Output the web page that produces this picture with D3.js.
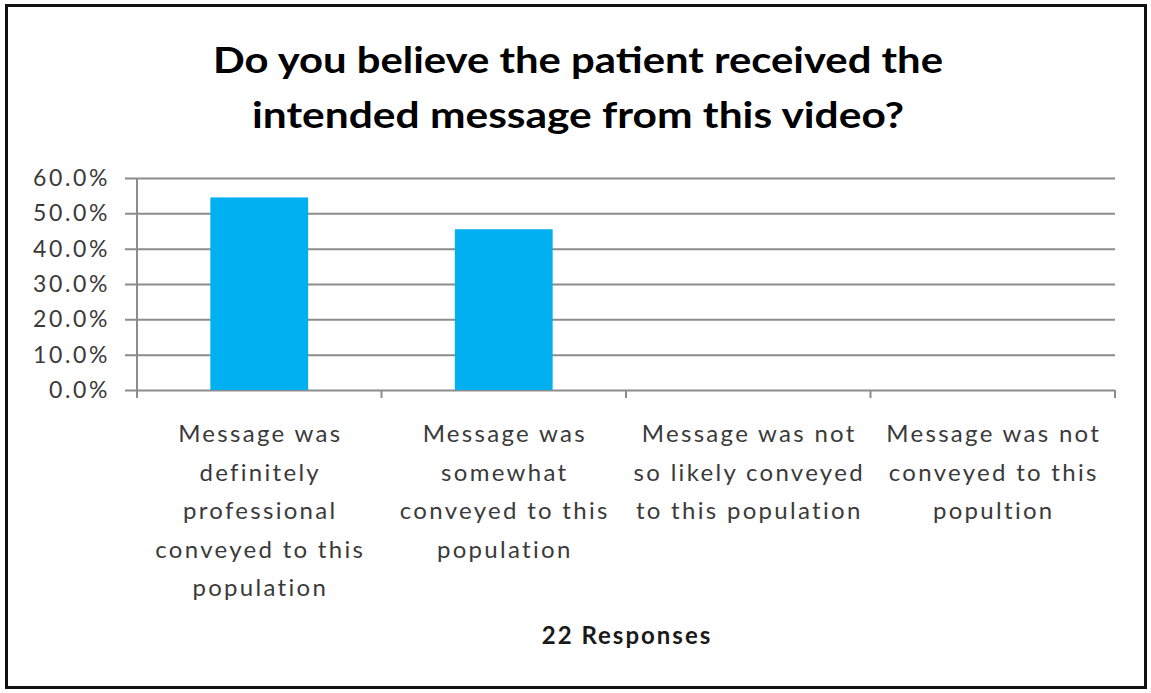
<!DOCTYPE html>
<html>
<head>
<meta charset="utf-8">
<script src="https://cdn.jsdelivr.net/npm/d3@7"></script>
<style>
  body { margin: 0; background: #fff; }
  #chart { width: 1151px; height: 693px; }
  text { font-family: Lato, "Open Sans", sans-serif; }
</style>
</head>
<body>
<div id="chart"></div>
<script>
//Datos del gráfico
const titleLines = ['Do you believe the patient received the', 'intended message from this video?'];
const categories = [
    'Message was\ndefinitely\nprofessional\nconveyed to this\npopulation',
    'Message was\nsomewhat\nconveyed to this\npopulation',
    'Message was not\nso likely conveyed\nto this population',
    'Message was not\nconveyed to this\npopultion'
];
const values = [54.5, 45.5, 0, 0];
const yTicks = [0, 10, 20, 30, 40, 50, 60];
const xTitle = '22 Responses';

const COLOR_BAR = '#00B0F0', COLOR_GRID = '#8C8C8C', COLOR_TEXT = '#3A3A3A';

let margin = {top: 178, right: 36, bottom: 303, left: 137},
    width = 1151 - margin.left - margin.right,
    height = 693 - margin.top - margin.bottom;

let root = d3.select('#chart')
    .append('svg')
      .attr('width', 1151)
      .attr('height', 693);

//Marco
root.append('rect')
    .attr('x', 6.5).attr('y', 5.5)
    .attr('width', 1139).attr('height', 682)
    .attr('fill', '#fff')
    .attr('stroke', '#111')
    .attr('stroke-width', 3);

//Título (el original es más ancho, se estira el texto)
const titleWidths = [730, 652];
root.append('g')
    .selectAll('text')
    .data(titleLines)
    .enter()
    .append('text')
    .attr('x', 578)
    .attr('y', function(d, i) { return 73 + i * 55; })
    .attr('text-anchor', 'middle')
    .attr('textLength', function(d, i) { return titleWidths[i]; })
    .attr('lengthAdjust', 'spacingAndGlyphs')
    .style('font-size', '36px')
    .style('font-weight', 'bold')
    .attr('fill', '#000')
    .text(function(d) { return d; });

let svg = root.append('g')
    .attr('transform', 'translate(' + margin.left + ',' + margin.top + ')');

let x = d3.scaleBand()
    .domain(categories)
    .range([0, width])
    .paddingInner(0.6)
    .paddingOuter(0.3);

let xEdges = d3.scaleLinear()
    .domain([0, categories.length])
    .range([0, width]);

let y = d3.scaleLinear()
    .domain([0, 60])
    .range([height, 0]);

//Rejilla y eje Y
let yAxis = svg.append('g')
    .call(d3.axisLeft(y)
        .tickValues(yTicks)
        .tickSize(-width)
        .tickSizeOuter(0)
        .tickPadding(27)
        .tickFormat(function(d) { return d.toFixed(1) + '%'; }));
yAxis.select('.domain').remove();
yAxis.selectAll('.tick line')
    .attr('x1', -12)
    .attr('stroke', COLOR_GRID)
    .attr('stroke-width', 2);
yAxis.selectAll('.tick text')
    .attr('fill', COLOR_TEXT)
    .style('font-size', '23px')
    .style('letter-spacing', '2.6px');

svg.append('line')
    .attr('x1', 0).attr('x2', 0)
    .attr('y1', y(60)).attr('y2', height + 8)
    .attr('stroke', COLOR_GRID)
    .attr('stroke-width', 2);

//Marcas del eje X
svg.append('g')
    .selectAll('line')
    .data(d3.range(1, categories.length + 1))
    .enter()
    .append('line')
    .attr('x1', function(d) { return xEdges(d); })
    .attr('x2', function(d) { return xEdges(d); })
    .attr('y1', height)
    .attr('y2', height + 8)
    .attr('stroke', COLOR_GRID)
    .attr('stroke-width', 2);

//Barras
svg.append('g')
    .selectAll('rect')
    .data(values)
    .enter()
    .append('rect')
    .attr('x', function(d, i) { return x(categories[i]); })
    .attr('y', function(d) { return y(d); })
    .attr('width', x.bandwidth())
    .attr('height', function(d) { return height - y(d); })
    .attr('fill', COLOR_BAR);

//Etiquetas de categoría
let labels = svg.append('g')
    .selectAll('text')
    .data(categories)
    .enter()
    .append('text')
    .attr('x', function(d) { return x(d) + x.bandwidth() / 2 + 1; })
    .attr('y', height + 52)
    .attr('text-anchor', 'middle')
    .attr('fill', COLOR_TEXT)
    .style('font-size', '24px')
    .style('letter-spacing', '2.3px');

labels.selectAll('tspan')
    .data(function(d) { return d.split('\n'); })
    .enter()
    .append('tspan')
    .attr('x', function() { return d3.select(this.parentNode).attr('x'); })
    .attr('dy', function(d, i) { return i === 0 ? 0 : 38.5; })
    .text(function(d) { return d; });

//Título del eje X
svg.append('text')
    .attr('x', width / 2 + 1)
    .attr('y', height + 254)
    .attr('text-anchor', 'middle')
    .attr('fill', '#1a1a1a')
    .style('font-size', '24px')
    .style('font-weight', 'bold')
    .style('letter-spacing', '2px')
    .text(xTitle);
</script>
</body>
</html>
